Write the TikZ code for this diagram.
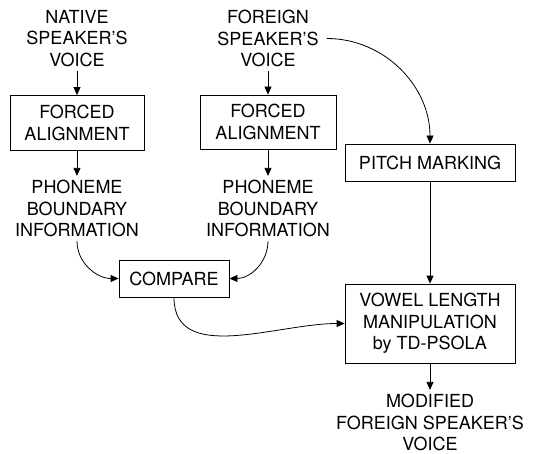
\documentclass[tikz,border=0pt]{standalone}
\usepackage{fontspec}
\setmainfont{TeX Gyre Heros}
\usetikzlibrary{arrows.meta}
\begin{document}
\begin{tikzpicture}[x=1pt,y=-1pt,
  lbl/.style={font=\fontsize{18}{21.5}\selectfont, align=center, inner sep=4pt},
  box/.style={draw, line width=0.8pt, font=\fontsize{18}{21.5}\selectfont, align=center, inner sep=0pt},
  arr/.style={-{Triangle[length=8pt,width=7pt]}, line width=0.8pt}]
\useasboundingbox (0,0) rectangle (535,454);
\node[lbl] (nvoice) at (77,38.5) {NATIVE\\SPEAKER'S\\VOICE};
\node[lbl] (fvoice) at (268,38.5) {FOREIGN\\SPEAKER'S\\VOICE};
\node[box, minimum width=134pt, minimum height=55pt] (fa1) at (77,123) {FORCED\\ALIGNMENT};
\node[box, minimum width=136pt, minimum height=54pt] (fa2) at (268,122) {FORCED\\ALIGNMENT};
\node[lbl] (nph) at (77,208.5) {PHONEME\\BOUNDARY\\INFORMATION};
\node[lbl] (fph) at (268,208.5) {PHONEME\\BOUNDARY\\INFORMATION};
\node[box, minimum width=110pt, minimum height=37pt] (cmp) at (174,278.5) {COMPARE};
\node[box, minimum width=170pt, minimum height=37pt] (pitch) at (430,162.5) {PITCH MARKING};
\node[box, minimum width=170pt, minimum height=79pt] (vowel) at (430,323.5) {VOWEL LENGTH\\MANIPULATION\\by TD-PSOLA};
\node[lbl] (mod) at (430,422.5) {MODIFIED\\FOREIGN SPEAKER'S\\VOICE};
\draw[arr] (nvoice) -- (fa1);
\draw[arr] (fa1) -- (nph);
\draw[arr] (fvoice) -- (fa2);
\draw[arr] (fa2) -- (fph);
\draw[arr] (nph.south) to[out=-90,in=180] (cmp.west);
\draw[arr] (fph.south) to[out=-90,in=0] (cmp.east);
\draw[arr] (cmp.south) to[out=-90,in=180] (vowel.west);
\draw[arr] ([xshift=4pt]fvoice.east) to[out=0,in=90] (pitch.north);
\draw[arr] (pitch) -- (vowel);
\draw[arr] (vowel) -- (mod);
\end{tikzpicture}
\end{document}
